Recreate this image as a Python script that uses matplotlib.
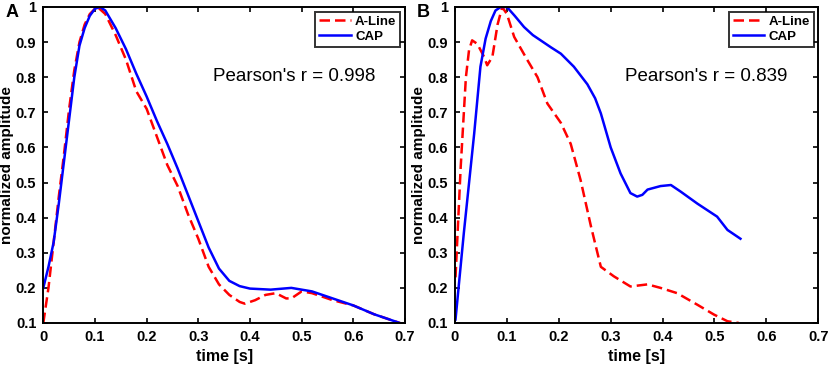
import matplotlib
matplotlib.use("Agg")
import matplotlib.pyplot as plt

plt.rcParams["font.family"] = ["Liberation Sans", "DejaVu Sans"]

# Panel A data
t_cap_a = [0, 0.01, 0.02, 0.03, 0.04, 0.05, 0.06, 0.07, 0.08, 0.09, 0.1, 0.11, 0.12, 0.14,
           0.16, 0.18, 0.2, 0.22, 0.24, 0.26, 0.28, 0.3, 0.32, 0.34, 0.36, 0.38, 0.4,
           0.44, 0.48, 0.52, 0.56, 0.6, 0.64, 0.69]
cap_a = [0.20, 0.26, 0.33, 0.44, 0.56, 0.68, 0.80, 0.89, 0.94, 0.975, 0.995, 1.0, 0.99, 0.94,
         0.88, 0.81, 0.745, 0.675, 0.61, 0.54, 0.465, 0.39, 0.315, 0.255, 0.22, 0.205, 0.198,
         0.195, 0.2, 0.19, 0.17, 0.15, 0.125, 0.10]
t_aline_a = [0, 0.01, 0.02, 0.03, 0.04, 0.05, 0.06, 0.07, 0.08, 0.09, 0.1, 0.105, 0.12, 0.14,
             0.16, 0.18, 0.19, 0.2, 0.22, 0.24, 0.26, 0.28, 0.3, 0.32, 0.34, 0.36, 0.38,
             0.39, 0.41, 0.43, 0.45, 0.47, 0.48, 0.5, 0.52, 0.56, 0.6, 0.64, 0.69]
aline_a = [0.10, 0.20, 0.33, 0.46, 0.58, 0.71, 0.82, 0.90, 0.95, 0.98, 0.995, 1.0, 0.98, 0.92,
           0.85, 0.76, 0.735, 0.71, 0.63, 0.55, 0.49, 0.41, 0.34, 0.26, 0.21, 0.18, 0.16,
           0.155, 0.165, 0.18, 0.185, 0.17, 0.17, 0.19, 0.185, 0.165, 0.15, 0.125, 0.10]

# Panel B data
t_cap_b = [0.001, 0.017, 0.037, 0.049, 0.059, 0.069, 0.078, 0.088, 0.1, 0.115, 0.133, 0.15,
           0.165, 0.185, 0.204, 0.229, 0.255, 0.27, 0.281, 0.3, 0.319, 0.338, 0.351, 0.361,
           0.371, 0.396, 0.416, 0.435, 0.467, 0.505, 0.525, 0.55]
cap_b = [0.11, 0.356, 0.64, 0.83, 0.91, 0.96, 0.99, 1.0, 1.0, 0.975, 0.943, 0.92,
         0.905, 0.885, 0.867, 0.83, 0.78, 0.74, 0.697, 0.6, 0.526, 0.47, 0.46, 0.465,
         0.48, 0.49, 0.493, 0.474, 0.44, 0.403, 0.365, 0.34]
t_aline_b = [0.001, 0.011, 0.021, 0.027, 0.033, 0.043, 0.056, 0.062, 0.072, 0.082, 0.091,
             0.1, 0.114, 0.139, 0.159, 0.178, 0.204, 0.223, 0.242, 0.262, 0.281, 0.306,
             0.338, 0.371, 0.396, 0.428, 0.467, 0.499, 0.525, 0.547]
aline_b = [0.23, 0.545, 0.80, 0.877, 0.905, 0.895, 0.858, 0.834, 0.858, 0.95, 1.0,
           0.98, 0.915, 0.85, 0.8, 0.725, 0.67, 0.61, 0.507, 0.375, 0.26, 0.233,
           0.204, 0.21, 0.2, 0.185, 0.152, 0.124, 0.105, 0.1]

pearson = ["Pearson's r = 0.998", "Pearson's r = 0.839"]
panel_labels = ["A", "B"]
xticks = [0, 0.1, 0.2, 0.3, 0.4, 0.5, 0.6, 0.7]
yticks = [0.1, 0.2, 0.3, 0.4, 0.5, 0.6, 0.7, 0.8, 0.9, 1.0]
ytick_labels = ["0.1", "0.2", "0.3", "0.4", "0.5", "0.6", "0.7", "0.8", "0.9", "1"]
xtick_labels = ["0", "0.1", "0.2", "0.3", "0.4", "0.5", "0.6", "0.7"]

fig = plt.figure(figsize=(8.29, 3.68), dpi=100)
ax_a = fig.add_axes([43.3 / 829, 45 / 368, (405 - 43.3) / 829, 316 / 368])
ax_b = fig.add_axes([455 / 829, 45 / 368, (818.3 - 455) / 829, 316 / 368])

panels = [(ax_a, t_aline_a, aline_a, t_cap_a, cap_a),
          (ax_b, t_aline_b, aline_b, t_cap_b, cap_b)]

for i, (ax, ta, ya, tc, yc) in enumerate(panels):
    ax.plot(ta, ya, color="#ff0000", lw=1.8, dashes=(4.2, 2.0), label="A-Line")
    ax.plot(tc, yc, color="#0000ff", lw=1.8, label="CAP")
    ax.set_xlim(0, 0.7)
    ax.set_ylim(0.1, 1.0)
    ax.set_xticks(xticks)
    ax.set_xticklabels(xtick_labels)
    ax.set_yticks(yticks)
    ax.set_yticklabels(ytick_labels)
    ax.tick_params(direction="in", length=3.5, width=1.2, top=True, right=True,
                   labelsize=10.5, pad=5)
    for lab in ax.get_xticklabels() + ax.get_yticklabels():
        lab.set_fontweight("bold")
    for sp in ax.spines.values():
        sp.set_linewidth(1.4)
    ax.set_xlabel("time [s]", fontsize=11.5, fontweight="bold", labelpad=4)
    ax.set_ylabel("normalized amplitude", fontsize=11, fontweight="bold", labelpad=1)
    ax.text(0.328, 0.803, pearson[i], fontsize=13.5, va="center", ha="left")
    leg = ax.legend(loc="upper right", fontsize=9.5, frameon=True, fancybox=False,
                    edgecolor="black", borderaxespad=0.35, handlelength=2.4,
                    handletextpad=0.3, borderpad=0.3, labelspacing=0.2)
    leg.get_frame().set_linewidth(1.4)
    for t in leg.get_texts():
        t.set_fontweight("bold")
    fig.text(ax.get_position().x0 - 38 / 829, 0.965, panel_labels[i],
             fontsize=13, fontweight="bold", ha="left", va="center")

fig.savefig("out.png", dpi=100)
